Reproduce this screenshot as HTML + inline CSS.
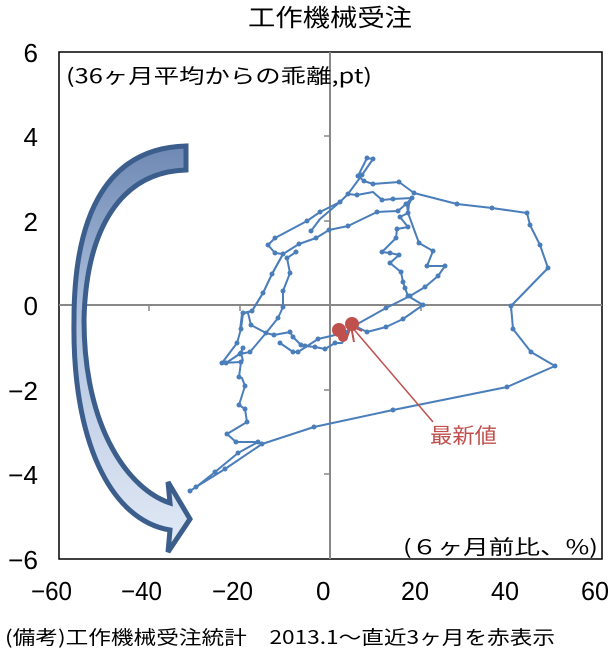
<!DOCTYPE html>
<html><head><meta charset="utf-8"><style>
html,body{margin:0;padding:0;background:#fff;}
svg{display:block;font-family:"Liberation Sans","Noto Sans CJK JP",sans-serif;}
</style></head><body>
<svg width="616" height="658" viewBox="0 0 616 658" xmlns="http://www.w3.org/2000/svg">
<defs>
<linearGradient id="g" x1="0" y1="0" x2="0" y2="1">
<stop offset="0" stop-color="#6e89b4"/><stop offset="0.45" stop-color="#b4c5e0"/><stop offset="1" stop-color="#e2eaf6"/>
</linearGradient>
</defs>
<text x="330" y="26" font-size="24" text-anchor="middle" font-family="Noto Sans CJK JP, sans-serif" textLength="164" lengthAdjust="spacingAndGlyphs">工作機械受注</text>
<rect x="59" y="52" width="543" height="507" fill="none" stroke="#000" stroke-width="1.5"/>
<line x1="59" y1="305" x2="602" y2="305" stroke="#888" stroke-width="2"/>
<line x1="330" y1="52" x2="330" y2="559" stroke="#888" stroke-width="2"/>
<g stroke="#888" stroke-width="1.5">
<line x1="149" y1="305" x2="149" y2="311"/><line x1="240" y1="305" x2="240" y2="311"/>
<line x1="421" y1="305" x2="421" y2="311"/><line x1="511" y1="305" x2="511" y2="311"/>
<line x1="324" y1="136" x2="330" y2="136"/><line x1="324" y1="221" x2="330" y2="221"/>
<line x1="324" y1="390" x2="330" y2="390"/><line x1="324" y1="474" x2="330" y2="474"/>
</g>
<g font-size="26" text-anchor="end">
<text x="38" y="62">6</text><text x="38" y="146">4</text><text x="38" y="231">2</text>
<text x="38" y="315">0</text><text x="38" y="400" textLength="30" lengthAdjust="spacingAndGlyphs">−2</text><text x="38" y="484" textLength="30" lengthAdjust="spacingAndGlyphs">−4</text><text x="38" y="569" textLength="30" lengthAdjust="spacingAndGlyphs">−6</text>
</g>
<g font-size="26">
<text x="31" y="600" textLength="41" lengthAdjust="spacingAndGlyphs">−60</text>
<text x="121" y="600" textLength="41" lengthAdjust="spacingAndGlyphs">−40</text>
<text x="212" y="600" textLength="41" lengthAdjust="spacingAndGlyphs">−20</text>
<text x="316" y="600">0</text>
<text x="401" y="600" textLength="28" lengthAdjust="spacingAndGlyphs">20</text>
<text x="491" y="600" textLength="28" lengthAdjust="spacingAndGlyphs">40</text>
<text x="581" y="600" textLength="28" lengthAdjust="spacingAndGlyphs">60</text>
</g>
<text x="66" y="83" font-size="20" font-family="Noto Sans CJK JP, sans-serif" textLength="306" lengthAdjust="spacingAndGlyphs">(36ヶ月平均からの乖離,pt)</text>
<text x="403" y="554" font-size="20" font-family="Noto Sans CJK JP, sans-serif" textLength="195" lengthAdjust="spacingAndGlyphs">(６ヶ月前比、%)</text>
<text x="5" y="644" font-size="19" font-family="Noto Sans CJK JP, sans-serif" textLength="550" lengthAdjust="spacingAndGlyphs">(備考)工作機械受注統計　2013.1～直近3ヶ月を赤表示</text>
<path d="M186,146 L186,170 C120,172 86,230 84,320 C84,430 130,490 170,503 L168,482 L190,519 L168,552 L170,530 C110,520 72,440 74,320 C74,210 110,148 186,146 Z" fill="url(#g)" stroke="#3b5e8c" stroke-width="5" stroke-linejoin="miter"/>
<g fill="none" stroke="#4a7ebb" stroke-width="2" stroke-linejoin="round">
<polyline points="190,491 196,487 215,472 238,453 258,442 262,444 314,427 393,410 507,387 555,366 531,352 513,329 511,306 548,268 540,245 530,225 527,213 492,208 457,204 414,193 399,182 373,184 364,181 358,176 367,158 373,159 362,175 348,194 340,202 320,212 307,221 275,238 268,245 275,253 283,254 272,274 263,293 252,311 243,313 241,329 237,343 222,363 241,362 239,377 242,378 245,386 239,405 245,409 247,422 227,434 236,442 258,442 262,444 225,469 196,487"/>
<polyline points="248,313 251,325 266,333 274,335 290,332 293,337 301,345 305,346 315,347 325,349 335,343 342,343 348,332"/>
<polyline points="240,330 242,314 252,311 263,293 272,274 283,254 299,244 316,238 329,230 348,226 377,212 398,211 406,204 412,198 393,199 382,200 373,192 357,195 348,194"/>
<polyline points="407,204 408,213 400,217 408,227 397,229 396,238 382,252 390,253 399,255 390,263 401,272 403,282 405,288 408,296 423,305 403,319 386,327 367,332 357,327"/>
<polyline points="412,198 409,204 408,213 419,243 433,251 427,266 445,266 438,276 425,287 410,296 386,308 352,327 340,336"/>
<polyline points="311,231 320,219 340,202"/>
<polyline points="296,252 287,258 290,273 283,291 283,307 278,318 266,333 250,352 240,354 243,348"/>
<polyline points="280,343 293,352 298,352 318,339 348,332"/>
<polyline points="226,363 241,353 243,361"/>
</g>
<g fill="#4a7ebb">
<circle cx="190" cy="491" r="2.5"/><circle cx="196" cy="487" r="2.5"/><circle cx="215" cy="472" r="2.5"/><circle cx="225" cy="469" r="2.5"/><circle cx="238" cy="453" r="2.5"/><circle cx="258" cy="442" r="2.5"/><circle cx="262" cy="444" r="2.5"/><circle cx="314" cy="427" r="2.5"/><circle cx="393" cy="410" r="2.5"/><circle cx="507" cy="387" r="2.5"/><circle cx="555" cy="366" r="2.5"/><circle cx="531" cy="352" r="2.5"/><circle cx="513" cy="329" r="2.5"/><circle cx="511" cy="306" r="2.5"/><circle cx="548" cy="268" r="2.5"/><circle cx="540" cy="245" r="2.5"/><circle cx="530" cy="225" r="2.5"/><circle cx="527" cy="213" r="2.5"/><circle cx="492" cy="208" r="2.5"/><circle cx="457" cy="204" r="2.5"/><circle cx="414" cy="193" r="2.5"/><circle cx="399" cy="182" r="2.5"/><circle cx="373" cy="184" r="2.5"/><circle cx="364" cy="181" r="2.5"/><circle cx="358" cy="176" r="2.5"/><circle cx="367" cy="158" r="2.5"/><circle cx="373" cy="159" r="2.5"/><circle cx="362" cy="175" r="2.5"/><circle cx="348" cy="194" r="2.5"/><circle cx="340" cy="202" r="2.5"/><circle cx="320" cy="212" r="2.5"/><circle cx="307" cy="221" r="2.5"/><circle cx="275" cy="238" r="2.5"/><circle cx="268" cy="245" r="2.5"/><circle cx="275" cy="253" r="2.5"/><circle cx="283" cy="254" r="2.5"/><circle cx="272" cy="274" r="2.5"/><circle cx="263" cy="293" r="2.5"/><circle cx="252" cy="311" r="2.5"/><circle cx="243" cy="313" r="2.5"/><circle cx="241" cy="329" r="2.5"/><circle cx="237" cy="343" r="2.5"/><circle cx="222" cy="363" r="2.5"/><circle cx="241" cy="362" r="2.5"/><circle cx="239" cy="377" r="2.5"/><circle cx="245" cy="386" r="2.5"/><circle cx="239" cy="405" r="2.5"/><circle cx="245" cy="409" r="2.5"/><circle cx="247" cy="422" r="2.5"/><circle cx="227" cy="434" r="2.5"/><circle cx="236" cy="442" r="2.5"/>
<circle cx="251" cy="325" r="2.5"/><circle cx="266" cy="333" r="2.5"/><circle cx="274" cy="335" r="2.5"/><circle cx="290" cy="332" r="2.5"/><circle cx="293" cy="337" r="2.5"/><circle cx="301" cy="345" r="2.5"/><circle cx="305" cy="346" r="2.5"/><circle cx="315" cy="347" r="2.5"/><circle cx="325" cy="349" r="2.5"/><circle cx="335" cy="343" r="2.5"/>
<circle cx="299" cy="244" r="2.5"/><circle cx="316" cy="238" r="2.5"/><circle cx="329" cy="230" r="2.5"/><circle cx="348" cy="226" r="2.5"/><circle cx="377" cy="212" r="2.5"/><circle cx="398" cy="211" r="2.5"/><circle cx="406" cy="204" r="2.5"/><circle cx="412" cy="198" r="2.5"/><circle cx="393" cy="199" r="2.5"/><circle cx="382" cy="200" r="2.5"/><circle cx="357" cy="195" r="2.5"/>
<circle cx="408" cy="213" r="2.5"/><circle cx="400" cy="217" r="2.5"/><circle cx="408" cy="227" r="2.5"/><circle cx="397" cy="229" r="2.5"/><circle cx="396" cy="238" r="2.5"/><circle cx="382" cy="252" r="2.5"/><circle cx="390" cy="253" r="2.5"/><circle cx="399" cy="255" r="2.5"/><circle cx="390" cy="263" r="2.5"/><circle cx="401" cy="272" r="2.5"/><circle cx="403" cy="282" r="2.5"/><circle cx="405" cy="288" r="2.5"/><circle cx="408" cy="296" r="2.5"/><circle cx="423" cy="305" r="2.5"/><circle cx="403" cy="319" r="2.5"/><circle cx="386" cy="327" r="2.5"/><circle cx="367" cy="332" r="2.5"/>
<circle cx="419" cy="243" r="2.5"/><circle cx="433" cy="251" r="2.5"/><circle cx="427" cy="266" r="2.5"/><circle cx="445" cy="266" r="2.5"/><circle cx="438" cy="276" r="2.5"/><circle cx="425" cy="287" r="2.5"/><circle cx="410" cy="296" r="2.5"/><circle cx="386" cy="308" r="2.5"/>
<circle cx="311" cy="231" r="2.5"/><circle cx="296" cy="252" r="2.5"/><circle cx="287" cy="258" r="2.5"/><circle cx="290" cy="273" r="2.5"/><circle cx="283" cy="291" r="2.5"/><circle cx="283" cy="307" r="2.5"/><circle cx="278" cy="318" r="2.5"/><circle cx="250" cy="352" r="2.5"/><circle cx="240" cy="354" r="2.5"/><circle cx="243" cy="348" r="2.5"/>
<circle cx="280" cy="343" r="2.5"/><circle cx="293" cy="352" r="2.5"/><circle cx="298" cy="352" r="2.5"/><circle cx="318" cy="339" r="2.5"/><circle cx="226" cy="363" r="2.5"/><circle cx="241" cy="353" r="2.5"/>
</g>
<g stroke="#c0504d" stroke-width="2" fill="#c0504d">
<line x1="351" y1="326" x2="433" y2="422" stroke-width="1.5"/>
<line x1="351" y1="326" x2="362" y2="331"/>
<line x1="351" y1="326" x2="354" y2="342"/>
<line x1="351" y1="326" x2="346" y2="340"/>
<circle cx="339" cy="330" r="6"/><circle cx="352" cy="324" r="6"/><circle cx="343" cy="337" r="4"/>
</g>
<text x="430" y="443" font-size="21" fill="#c0504d" font-family="Noto Sans CJK JP, sans-serif" textLength="67" lengthAdjust="spacingAndGlyphs">最新値</text>
</svg>
</body></html>
